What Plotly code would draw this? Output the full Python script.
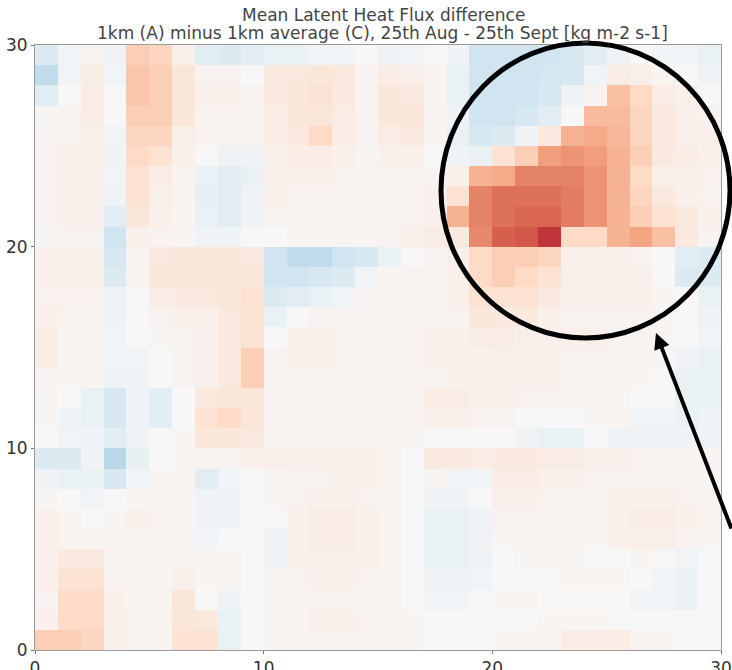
import plotly.graph_objects as go

# Grid values, rows listed from top (y index 29) to bottom (y index 0), columns 0..29
row29 = [-0.14,-0.03,0.03,-0.04,0.25,0.22,0.05,-0.11,-0.14,-0.11,-0.07,-0.07,-0.03,-0.03,0.0,-0.04,-0.03,0.0,-0.04,-0.2,-0.2,-0.2,-0.2,-0.17,-0.11,-0.04,0.0,-0.03,-0.03,-0.07]
row28 = [-0.25,-0.03,0.08,-0.03,0.28,0.25,0.12,0.03,0.03,0.0,0.1,0.1,0.12,0.1,0.03,0.08,0.05,0.02,-0.07,-0.2,-0.2,-0.2,-0.18,-0.17,-0.03,0.08,0.06,0.02,0.0,-0.04]
row27 = [-0.11,0.0,0.08,0.0,0.28,0.25,0.12,0.05,0.05,0.03,0.1,0.12,0.15,0.1,0.03,0.12,0.1,0.02,-0.07,-0.2,-0.2,-0.2,-0.17,-0.04,0.03,0.3,0.2,0.08,0.05,0.0]
row26 = [0.02,0.03,0.08,0.0,0.25,0.25,0.12,0.03,0.03,0.03,0.08,0.12,0.12,0.08,0.03,0.12,0.12,0.02,-0.04,-0.2,-0.2,-0.17,-0.11,0.0,0.32,0.32,0.22,0.1,0.05,0.03]
row25 = [0.03,0.03,0.06,-0.03,0.22,0.22,0.06,0.03,0.03,0.02,0.08,0.1,0.2,0.08,0.03,0.08,0.1,0.02,-0.07,-0.17,-0.14,-0.04,0.1,0.35,0.38,0.33,0.22,0.1,0.05,0.05]
row24 = [0.03,0.05,0.06,-0.04,0.2,0.15,0.05,0.0,-0.04,-0.04,0.05,0.08,0.08,0.05,0.02,0.05,0.05,0.0,-0.04,-0.07,0.15,0.25,0.42,0.45,0.42,0.35,0.25,0.1,0.08,0.05]
row23 = [0.03,0.05,0.05,-0.03,0.15,0.08,0.03,-0.07,-0.11,-0.07,0.05,0.05,0.05,0.03,0.02,0.03,0.03,0.03,0.05,0.35,0.38,0.5,0.5,0.5,0.45,0.35,0.2,0.06,0.05,0.04]
row22 = [0.03,0.05,0.05,-0.04,0.15,0.06,0.03,-0.08,-0.11,-0.04,0.05,0.03,0.03,0.02,0.02,0.02,0.02,0.05,0.15,0.5,0.55,0.55,0.55,0.52,0.45,0.35,0.22,0.1,0.05,0.03]
row21 = [0.03,0.05,0.05,-0.11,0.12,0.05,0.02,-0.07,-0.11,-0.04,0.03,0.03,0.03,0.03,0.02,0.02,0.03,0.05,0.35,0.5,0.55,0.58,0.58,0.52,0.45,0.35,0.25,0.15,0.1,0.05]
row20 = [0.02,0.03,0.03,-0.2,0.05,0.03,0.02,-0.04,-0.04,0.0,0.0,0.02,0.02,0.02,0.02,0.03,0.05,0.08,0.1,0.48,0.6,0.62,0.72,0.2,0.2,0.35,0.4,0.3,0.1,0.03]
row19 = [0.05,0.05,0.05,-0.17,0.03,0.1,0.12,0.12,0.12,0.1,-0.2,-0.25,-0.25,-0.2,-0.17,-0.07,0.0,0.03,0.05,0.2,0.25,0.25,0.22,0.05,0.05,0.05,0.03,0.0,-0.11,-0.14]
row18 = [0.05,0.05,0.05,-0.14,0.03,0.12,0.12,0.12,0.12,0.12,-0.2,-0.2,-0.17,-0.14,-0.03,0.02,0.03,0.03,0.05,0.2,0.25,0.2,0.15,0.06,0.06,0.05,0.05,0.0,-0.14,-0.14]
row17 = [0.04,0.04,0.04,-0.04,0.0,0.08,0.1,0.1,0.12,0.15,-0.14,-0.11,-0.07,-0.03,0.02,0.03,0.03,0.03,0.05,0.15,0.15,0.15,0.1,0.05,0.05,0.05,0.05,0.02,0.0,-0.07]
row16 = [0.05,0.03,0.02,-0.04,0.0,0.03,0.05,0.05,0.1,0.15,-0.07,0.0,0.03,0.03,0.03,0.03,0.03,0.03,0.03,0.12,0.1,0.1,0.05,0.03,0.03,0.03,0.03,0.02,0.0,-0.04]
row15 = [0.08,0.02,0.02,-0.03,0.0,0.02,0.03,0.05,0.1,0.15,0.0,0.05,0.05,0.03,0.03,0.03,0.03,0.05,0.05,0.08,0.08,0.06,0.05,0.05,0.05,0.03,0.03,0.02,0.0,-0.03]
row14 = [0.08,0.02,0.02,-0.03,-0.03,0.0,0.03,0.05,0.1,0.25,0.03,0.05,0.05,0.03,0.03,0.03,0.03,0.05,0.05,0.05,0.06,0.05,0.05,0.03,0.03,0.02,0.02,0.02,-0.04,-0.07]
row13 = [0.03,0.02,0.02,-0.04,-0.04,0.0,0.03,0.05,0.1,0.25,0.03,0.03,0.03,0.03,0.03,0.02,0.02,0.03,0.05,0.05,0.05,0.05,0.05,0.03,0.02,0.02,0.02,0.0,-0.07,-0.07]
row12 = [0.02,0.0,-0.07,-0.17,-0.04,-0.11,0.0,0.1,0.12,0.12,0.02,0.02,0.02,0.02,0.02,0.02,0.02,0.08,0.08,0.05,0.05,0.03,0.03,0.02,0.02,0.02,0.0,0.0,-0.07,-0.07]
row11 = [0.02,-0.04,-0.07,-0.17,-0.04,-0.11,0.0,0.15,0.2,0.12,0.02,0.02,0.02,0.02,0.02,0.02,0.02,0.05,0.05,0.03,0.03,0.0,0.0,0.0,0.02,0.02,-0.03,-0.03,-0.07,-0.04]
row10 = [0.0,-0.03,-0.04,-0.11,-0.04,0.0,0.02,0.12,0.12,0.1,0.02,0.02,0.02,0.02,0.02,0.02,0.02,0.0,0.0,0.0,0.0,-0.04,-0.07,-0.07,0.0,-0.04,-0.04,-0.04,-0.04,-0.04]
row9 = [-0.14,-0.14,-0.04,-0.28,-0.08,0.0,0.02,0.03,0.03,0.05,0.05,0.05,0.05,0.05,0.05,0.03,0.0,0.1,0.1,0.08,0.1,0.1,0.08,0.08,0.05,0.05,0.03,0.03,0.03,0.03]
row8 = [-0.04,-0.07,-0.07,-0.17,-0.03,0.02,0.02,-0.11,-0.03,0.0,0.02,0.03,0.03,0.05,0.05,0.03,0.0,0.02,-0.03,-0.03,0.08,0.08,0.05,0.05,0.03,0.03,0.03,0.03,0.02,0.02]
row7 = [0.02,0.0,-0.03,0.0,0.02,0.03,0.02,-0.04,-0.04,0.0,0.02,0.03,0.05,0.05,0.03,0.02,0.0,-0.04,-0.04,0.0,0.05,0.05,0.03,0.03,0.03,0.05,0.05,0.05,0.03,0.03]
row6 = [0.05,0.02,0.0,0.02,0.05,0.03,0.02,-0.04,-0.04,0.0,0.0,0.05,0.08,0.08,0.05,0.02,0.0,-0.07,-0.07,-0.04,0.03,0.03,0.03,0.03,0.03,0.05,0.08,0.08,0.05,0.03]
row5 = [0.05,0.02,0.02,0.03,0.03,0.03,0.02,-0.03,0.0,0.0,-0.04,0.05,0.08,0.08,0.05,0.02,0.0,-0.07,-0.07,-0.04,0.02,0.02,0.02,0.02,0.02,0.05,0.06,0.06,0.03,0.02]
row4 = [0.05,0.1,0.1,0.03,0.02,0.02,0.02,0.02,0.02,0.0,-0.04,0.05,0.06,0.06,0.05,0.02,0.0,-0.07,-0.07,-0.04,0.0,0.02,0.02,0.02,0.0,0.0,0.02,0.0,-0.03,0.0]
row3 = [0.05,0.15,0.15,0.03,0.02,0.02,0.05,0.02,0.02,0.0,0.02,0.03,0.05,0.05,0.03,0.02,0.0,-0.04,-0.04,-0.03,0.0,0.0,0.0,0.02,0.02,0.02,0.0,-0.03,-0.07,0.0]
row2 = [0.03,0.2,0.2,0.05,0.02,0.02,0.12,0.0,-0.04,0.0,0.02,0.02,0.03,0.03,0.02,0.02,0.0,-0.03,-0.03,0.0,0.02,0.02,0.0,0.0,0.0,0.0,-0.03,-0.03,-0.07,0.0]
row1 = [0.05,0.2,0.2,0.05,0.03,0.03,0.12,0.1,-0.07,0.0,0.02,0.02,0.05,0.05,0.03,0.02,0.02,0.0,0.0,0.0,0.0,0.0,0.02,0.02,0.02,0.0,0.0,0.0,0.0,0.0]
row0 = [0.25,0.25,0.22,0.05,0.03,0.03,0.15,0.15,-0.07,0.0,0.02,0.02,0.03,0.03,0.03,0.02,0.02,0.0,0.0,0.0,0.02,0.02,0.02,0.08,0.08,0.08,0.02,0.02,0.0,0.0]

rows_top_down = [row29,row28,row27,row26,row25,row24,row23,row22,row21,row20,
                 row19,row18,row17,row16,row15,row14,row13,row12,row11,row10,
                 row9,row8,row7,row6,row5,row4,row3,row2,row1,row0]
z = rows_top_down[::-1]
x_centers = [i + 0.5 for i in range(30)]
y_centers = [j + 0.5 for j in range(30)]
tick_vals = [0, 10, 20, 30]
tick_text = ["0", "10", "20", "30"]

title_line1 = "Mean Latent Heat Flux difference"
title_line2 = "1km (A) minus 1km average (C), 25th Aug - 25th Sept [kg m-2 s-1]"

rdbu_r = [
    [0.0, "rgb(5,48,97)"], [0.1, "rgb(33,102,172)"], [0.2, "rgb(67,147,195)"],
    [0.3, "rgb(146,197,222)"], [0.4, "rgb(209,229,240)"], [0.5, "rgb(247,247,247)"],
    [0.6, "rgb(253,219,199)"], [0.7, "rgb(244,165,130)"], [0.8, "rgb(214,96,77)"],
    [0.9, "rgb(178,24,43)"], [1.0, "rgb(103,0,31)"],
]

fig = go.Figure(go.Heatmap(
    z=z, x=x_centers, y=y_centers, colorscale=rdbu_r, zmin=-1, zmax=1,
    showscale=False, hoverinfo="skip"))

W, H = 732, 670
L, R, T, B = 35, 11, 45, 20
pw, ph = W - L - R, H - T - B

def px(xp):
    return (xp - L) / pw

def py(yp):
    return (H - B - yp) / ph

axis_common = dict(range=[0, 30], tickvals=tick_vals, ticktext=tick_text,
                   automargin=False,
                   showgrid=True, gridcolor="rgba(190,190,190,0.8)", gridwidth=1,
                   zeroline=False, showline=True, linecolor="#9a9a9a", mirror=True,
                   ticks="outside", ticklen=3, tickcolor="#777",
                   tickfont=dict(family="DejaVu Sans", size=17, color="#333"))
fig.update_xaxes(**axis_common)
fig.update_yaxes(**axis_common)

fig.add_shape(type="circle", xref="paper", yref="paper",
              x0=px(441), x1=px(730), y0=py(338), y1=py(43),
              line=dict(color="black", width=5), layer="above")

fig.add_annotation(xref="paper", yref="paper", x=px(656), y=py(333),
                   ax=95, ay=197, showarrow=True, arrowhead=2, arrowsize=0.8,
                   arrowwidth=4, arrowcolor="black", text="")

fig.add_annotation(xref="paper", yref="paper", x=px(383), y=py(15), text=title_line1,
                   showarrow=False, xanchor="center", yanchor="middle",
                   font=dict(family="DejaVu Sans", size=17, color="#444"))
fig.add_annotation(xref="paper", yref="paper", x=px(382), y=py(33), text=title_line2,
                   showarrow=False, xanchor="center", yanchor="middle",
                   font=dict(family="DejaVu Sans", size=17, color="#444"))

fig.update_layout(width=W, height=H, margin=dict(l=L, r=R, t=T, b=B),
                  paper_bgcolor="white", plot_bgcolor="white")

fig.write_html("out.html", config={"displayModeBar": False},
               post_script="document.body.style.margin='0';document.body.style.overflow='hidden';")
